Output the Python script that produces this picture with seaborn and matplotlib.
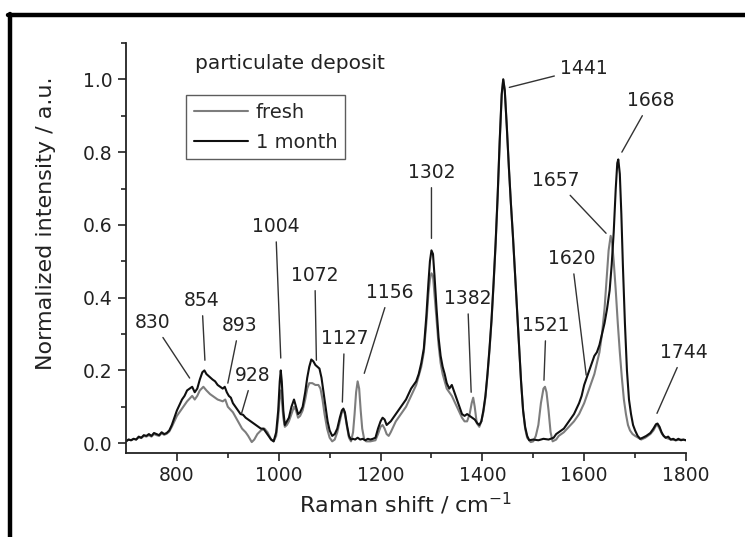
import matplotlib
matplotlib.use("Agg")
import matplotlib.pyplot as plt
from matplotlib.lines import Line2D
import pandas as pd
import seaborn as sns

# Raman spectra of the particulate deposit (normalized to the 1441 cm-1 band)
shift_fresh = [700, 705, 710, 715, 720, 725, 730, 735, 740, 745, 750, 755, 760, 765, 770, 775, 780, 785, 790, 795,
               800, 810, 820, 830, 835, 840, 845, 852, 858, 865, 870, 880, 890, 895, 900, 910, 920, 928, 935, 940,
               947, 952, 958, 965, 972, 978, 985, 990, 995, 999, 1002, 1004, 1006, 1009, 1012, 1016, 1020, 1025,
               1030, 1034, 1038, 1042, 1047, 1052, 1056, 1060, 1066, 1072, 1078, 1082, 1086, 1090, 1095, 1100, 1105,
               1110, 1115, 1120, 1124, 1127, 1130, 1134, 1138, 1142, 1146, 1149, 1152, 1155, 1158, 1161, 1164, 1168,
               1172, 1180, 1190, 1195, 1200, 1204, 1208, 1212, 1216, 1220, 1230, 1240, 1250, 1260, 1270, 1280, 1285,
               1290, 1294, 1297, 1300, 1303, 1306, 1310, 1314, 1318, 1322, 1330, 1340, 1350, 1360, 1365, 1370, 1375,
               1379, 1382, 1385, 1389, 1394, 1398, 1402, 1406, 1410, 1414, 1418, 1422, 1426, 1430, 1434, 1438, 1441,
               1444, 1448, 1452, 1456, 1460, 1464, 1468, 1472, 1476, 1480, 1484, 1488, 1495, 1500, 1505, 1510, 1515,
               1520, 1523, 1526, 1530, 1534, 1538, 1545, 1550, 1560, 1570, 1580, 1590, 1600, 1610, 1620, 1630, 1635,
               1640, 1644, 1648, 1652, 1655, 1658, 1662, 1666, 1670, 1674, 1678, 1682, 1686, 1690, 1695, 1700, 1706,
               1712, 1720, 1730, 1736, 1741, 1744, 1748, 1753, 1760, 1770, 1780, 1790, 1800]
int_fresh = [0.005, 0.01, 0.008, 0.012, 0.01, 0.016, 0.014, 0.02, 0.018, 0.022, 0.018, 0.025, 0.022, 0.02, 0.027,
             0.023, 0.026, 0.032, 0.045, 0.06,
             0.075, 0.095, 0.115, 0.13, 0.12, 0.13, 0.145, 0.155, 0.145, 0.135, 0.13, 0.12, 0.115, 0.12, 0.1, 0.085,
             0.06, 0.04, 0.03, 0.02,
             0.003, 0.01, 0.025, 0.035, 0.04, 0.03, 0.01, 0.005, 0.02, 0.07, 0.13, 0.145, 0.12, 0.07, 0.045, 0.05,
             0.06, 0.08,
             0.1, 0.09, 0.07, 0.075, 0.09, 0.12, 0.15, 0.165, 0.165, 0.16, 0.16, 0.15, 0.12, 0.08, 0.04, 0.015, 0.005,
             0.01, 0.03, 0.06, 0.085, 0.09, 0.08, 0.045, 0.015, 0.005, 0.03, 0.08, 0.14, 0.17, 0.15, 0.09, 0.04, 0.01,
             0.005, 0.005, 0.008, 0.025, 0.045, 0.05, 0.04, 0.025, 0.02, 0.03, 0.06, 0.08, 0.1, 0.13, 0.16, 0.21, 0.25,
             0.33, 0.41, 0.45, 0.467, 0.46, 0.41, 0.34, 0.27, 0.22, 0.19, 0.15, 0.13, 0.1, 0.07, 0.06, 0.06, 0.08,
             0.11, 0.125, 0.1, 0.055, 0.045, 0.06, 0.085, 0.125, 0.185, 0.255, 0.335, 0.435, 0.545, 0.675, 0.825,
             0.955, 1.0,
             0.97, 0.87, 0.76, 0.66, 0.57, 0.47, 0.37, 0.27, 0.17, 0.09, 0.04, 0.015, 0.003, 0.005, 0.02, 0.05, 0.11,
             0.15, 0.155, 0.14, 0.09, 0.03, 0.005, 0.01, 0.02, 0.03, 0.045, 0.06, 0.08, 0.11, 0.15, 0.19, 0.25, 0.3,
             0.37, 0.45, 0.53, 0.57, 0.55, 0.5, 0.42, 0.33, 0.25, 0.18, 0.12, 0.08, 0.05, 0.035, 0.025, 0.02, 0.015,
             0.01, 0.015, 0.025, 0.035, 0.048, 0.05, 0.04, 0.025, 0.015, 0.01, 0.008, 0.01, 0.008]

shift_1m = [700, 705, 710, 715, 720, 725, 730, 735, 740, 745, 750, 755, 760, 765, 770, 775, 780, 785, 790, 795,
            800, 805, 810, 815, 820, 825, 830, 835, 840, 845, 850, 854, 858, 862, 866, 870, 875, 880, 885, 890,
            894, 898, 902, 906, 910, 915, 920, 925, 930, 935, 940, 945, 950, 955, 960, 965, 970, 975, 980, 985,
            990, 995, 999, 1002, 1004, 1006, 1009, 1012, 1016, 1020, 1025, 1030, 1034, 1038, 1042, 1047, 1052,
            1056, 1060, 1064, 1068, 1072, 1076, 1080, 1084, 1088, 1092, 1096, 1100, 1105, 1110, 1115, 1120, 1124,
            1127, 1130, 1134, 1138, 1142, 1146, 1150, 1155, 1160, 1165, 1170, 1175, 1180, 1185, 1190, 1195, 1200,
            1204, 1208, 1212, 1216, 1220, 1225, 1230, 1235, 1240, 1245, 1250, 1255, 1260, 1265, 1270, 1275, 1280,
            1285, 1290, 1294, 1297, 1300, 1303, 1306, 1310, 1314, 1318, 1322, 1326, 1330, 1335, 1340, 1345, 1350,
            1355, 1360, 1365, 1370, 1375, 1380, 1385, 1390, 1394, 1398, 1402, 1406, 1410, 1414, 1418, 1422, 1426,
            1430, 1434, 1438, 1441, 1444, 1448, 1452, 1456, 1460, 1464, 1468, 1472, 1476, 1480, 1484, 1488, 1492,
            1500, 1510, 1520, 1530, 1540, 1545, 1550, 1555, 1560, 1565, 1570, 1575, 1580, 1585, 1590, 1595, 1600,
            1605, 1610, 1615, 1620, 1625, 1630, 1635, 1640, 1645, 1650, 1654, 1658, 1662, 1665, 1667, 1670, 1673,
            1676, 1680, 1684, 1688, 1692, 1696, 1700, 1705, 1710, 1715, 1722, 1730, 1736, 1741, 1744, 1748, 1752,
            1756, 1760, 1765, 1770, 1775, 1780, 1785, 1790, 1795, 1800]
int_1m = [0.005, 0.01, 0.008, 0.012, 0.01, 0.018, 0.015, 0.022, 0.02, 0.025, 0.02, 0.028, 0.025, 0.022, 0.03,
          0.025, 0.028, 0.035, 0.05, 0.07,
          0.09, 0.105, 0.12, 0.13, 0.145, 0.15, 0.155, 0.14, 0.15, 0.175, 0.195, 0.2, 0.19, 0.185, 0.18, 0.175,
          0.17, 0.16, 0.155, 0.15,
          0.155, 0.14, 0.13, 0.125, 0.11, 0.1, 0.09, 0.08, 0.078, 0.07, 0.065, 0.06, 0.055, 0.05, 0.045, 0.04,
          0.04, 0.03, 0.02, 0.01,
          0.005, 0.03, 0.09, 0.17, 0.2, 0.17, 0.09, 0.05, 0.06, 0.07, 0.1, 0.12, 0.1, 0.08, 0.085, 0.1, 0.14,
          0.18, 0.21, 0.23, 0.225, 0.215, 0.21, 0.205, 0.18, 0.14, 0.1, 0.06, 0.035, 0.02, 0.025, 0.04, 0.07, 0.09,
          0.095, 0.085, 0.05, 0.02, 0.01, 0.012, 0.01, 0.015, 0.01, 0.012, 0.008, 0.012, 0.01, 0.012, 0.015, 0.04,
          0.06,
          0.07, 0.065, 0.05, 0.055, 0.06, 0.07, 0.08, 0.09, 0.1, 0.11, 0.12, 0.135, 0.15, 0.16, 0.17, 0.19, 0.22,
          0.26, 0.35, 0.44, 0.5, 0.53, 0.52, 0.46, 0.37, 0.29, 0.24, 0.21, 0.19, 0.165, 0.15, 0.16, 0.14, 0.12,
          0.1, 0.08, 0.075, 0.08, 0.075, 0.07, 0.065, 0.055, 0.05, 0.06, 0.09, 0.13, 0.19, 0.26, 0.34, 0.44, 0.55,
          0.68, 0.83, 0.96, 1.0, 0.97, 0.87, 0.76, 0.66, 0.57, 0.47, 0.37, 0.27, 0.17, 0.09, 0.045, 0.02, 0.008,
          0.01, 0.008, 0.012, 0.01, 0.015, 0.025, 0.03, 0.035, 0.04, 0.05, 0.06, 0.07, 0.08, 0.095, 0.11, 0.13, 0.16,
          0.18, 0.2, 0.22, 0.24, 0.25, 0.27, 0.3, 0.33, 0.37, 0.42, 0.49, 0.58, 0.70, 0.77, 0.78, 0.74, 0.63,
          0.49, 0.33, 0.2, 0.12, 0.08, 0.05, 0.035, 0.02, 0.012, 0.015, 0.02, 0.028, 0.04, 0.052, 0.054, 0.045,
          0.03,
          0.02, 0.015, 0.018, 0.01, 0.012, 0.008, 0.012, 0.008, 0.01, 0.008]

samples = ["fresh", "1 month"]
colors = {"fresh": "#7d7d7d", "1 month": "#101010"}

# Band labels: text, leader tip (x, y) and label centre (x, y) in data units
band_text = ["830", "854", "893", "928", "1004", "1072", "1127", "1156", "1302", "1382",
             "1441", "1521", "1620", "1657", "1668", "1744"]
band_tip_x = [825, 855, 900, 927, 1004, 1074, 1125, 1168, 1300, 1378, 1453, 1521, 1604, 1643, 1674, 1743]
band_tip_y = [0.179, 0.228, 0.165, 0.082, 0.234, 0.228, 0.113, 0.192, 0.563, 0.14, 0.978, 0.173, 0.187,
              0.577, 0.80, 0.082]
band_lab_x = [753, 849, 923, 949, 994, 1071, 1129, 1218, 1300, 1371, 1600, 1525, 1576, 1545, 1731, 1796]
band_lab_y = [0.332, 0.393, 0.324, 0.187, 0.596, 0.462, 0.288, 0.415, 0.745, 0.398, 1.03, 0.324, 0.508,
              0.722, 0.942, 0.25]

df = pd.concat([
    pd.DataFrame({"shift": shift_fresh, "intensity": int_fresh, "sample": "fresh"}),
    pd.DataFrame({"shift": shift_1m, "intensity": int_1m, "sample": "1 month"}),
], ignore_index=True)

sns.set_theme(style="ticks")
plt.rcParams["font.family"] = ["DejaVu Sans"]

fig = plt.figure(figsize=(7.45, 5.37), dpi=100)
fig.patch.set_facecolor("white")
ax = fig.add_axes([126 / 745, 1 - 453 / 537, 560 / 745, 410 / 537])

sns.lineplot(data=df, x="shift", y="intensity", hue="sample", hue_order=samples, palette=colors,
             estimator=None, sort=False, linewidth=1.5, ax=ax)

ax.set_xlim(700, 1800)
ax.set_ylim(-0.027, 1.1)
ax.set_xticks([800, 1000, 1200, 1400, 1600, 1800])
ax.set_xticks([900, 1100, 1300, 1500, 1700], minor=True)
ax.set_yticks([0.0, 0.2, 0.4, 0.6, 0.8, 1.0])
ax.set_yticks([0.1, 0.3, 0.5, 0.7, 0.9, 1.1], minor=True)
ax.set_yticklabels(["0.0", "0.2", "0.4", "0.6", "0.8", "1.0"])
ax.tick_params(which="major", direction="out", length=6, width=1.2, labelsize=13.5, color="#222222",
               labelcolor="#222222")
ax.tick_params(which="minor", direction="out", length=3.5, width=1.2, color="#222222")
for side in ("top", "right"):
    ax.spines[side].set_visible(False)
for side in ("left", "bottom"):
    ax.spines[side].set_linewidth(1.3)
    ax.spines[side].set_color("#222222")

ax.set_xlabel("Raman shift / cm$^{-1}$", fontsize=16, color="#222222")
ax.set_ylabel("Normalized intensity / a.u.", fontsize=16, color="#222222")
ax.yaxis.set_label_coords(-0.125, 0.56)

for t, tx, ty, lx, ly in zip(band_text, band_tip_x, band_tip_y, band_lab_x, band_lab_y):
    ax.annotate(t, xy=(tx, ty), xytext=(lx, ly), ha="center", va="center", fontsize=13.5, color="#222222",
                arrowprops=dict(arrowstyle="-", color="#333333", lw=1.0, shrinkA=2, shrinkB=0))

ax.text(835, 1.045, "particulate deposit", fontsize=14.5, ha="left", va="center", color="#222222")

leg = ax.legend(loc="upper left", bbox_to_anchor=(0.107, 0.873), borderaxespad=0, fontsize=14,
                handlelength=2.8, handletextpad=0.4, labelspacing=0.55, frameon=True, fancybox=False,
                title=None)
leg.get_frame().set_edgecolor("#333333")
leg.get_frame().set_linewidth(1.0)

# outer frame lines along the top and left edges of the figure
fig.add_artist(Line2D([8 / 745, 1.0], [1 - 15 / 537, 1 - 15 / 537], color="black", lw=3.2,
                      transform=fig.transFigure))
fig.add_artist(Line2D([9.5 / 745, 9.5 / 745], [0.0, 1 - 13.5 / 537], color="black", lw=3.2,
                      transform=fig.transFigure))

fig.savefig("out.png", dpi=100, facecolor="white")
